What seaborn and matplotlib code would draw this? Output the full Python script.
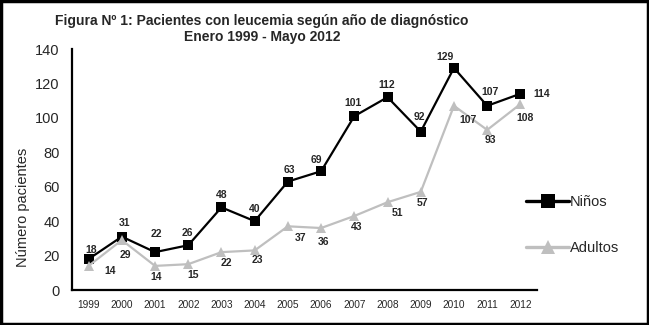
import seaborn as sns
import matplotlib.pyplot as plt
from matplotlib.lines import Line2D
from matplotlib.patches import Rectangle
import pandas as pd

years = ['1999', '2000', '2001', '2002', '2003', '2004', '2005',
         '2006', '2007', '2008', '2009', '2010', '2011', '2012']
ninos = [18, 31, 22, 26, 48, 40, 63, 69, 101, 112, 92, 129, 107, 114]
adultos = [14, 29, 14, 15, 22, 23, 37, 36, 43, 51, 57, 107, 93, 108]
series_names = ['Niños', 'Adultos']

# label offsets in pixels (dx, dy down positive)
ninos_off = [(3, -9), (3, -14), (1, -18), (-1, -12), (0, -12), (0, -12),
             (1, -12), (-5, -11), (-1, -13), (-1, -12), (-1, -15),
             (-9, -11), (3, -14), (21, 0)]
adultos_off = [(22, 5), (4, 15), (1, 11), (5, 11), (5, 11), (3, 10),
               (13, 12), (2, 14), (2, 11), (10, 11), (2, 11), (14, 14),
               (3, 10), (5, 14)]

df = pd.DataFrame({
    'year': years * 2,
    'value': ninos + adultos,
    'serie': [series_names[0]] * len(years) + [series_names[1]] * len(years),
})

sns.set_style('white')
plt.rcParams['font.family'] = ['Liberation Sans', 'DejaVu Sans']

colors = {'Niños': '#000000', 'Adultos': '#bfbfbf'}

fig = plt.figure(figsize=(6.49, 3.25), dpi=100)
ax = fig.add_axes([72 / 649, 1 - 290 / 325, (537 - 72) / 649, (290 - 49) / 325])

sns.lineplot(data=df, x='year', y='value', hue='serie', style='serie',
             markers={'Niños': 's', 'Adultos': '^'}, dashes=False,
             palette=colors, linewidth=1.6, markersize=7.5,
             markeredgewidth=0, sort=False, legend=False, ax=ax)

ax.set_ylim(0, 140)
ax.set_xlim(-0.5, len(years) - 0.5)
ax.set_yticks(range(0, 141, 20))
ax.tick_params(axis='y', labelsize=10.5, length=0, pad=9)
ax.tick_params(axis='x', labelsize=7.3, length=0, pad=7)
ax.set_xlabel('')
ax.set_ylabel('Número pacientes', fontsize=10.5)
ax.yaxis.set_label_coords((30 - 72) / 465, (290 - 207) / 241)
for s in ['top', 'right']:
    ax.spines[s].set_visible(False)
for s in ['left', 'bottom']:
    ax.spines[s].set_linewidth(1.6)
    ax.spines[s].set_color('black')

k = 72 / 100
for i, v in enumerate(ninos):
    dx, dy = ninos_off[i]
    ax.annotate(str(v), (i, v), xytext=(dx * k, -dy * k),
                textcoords='offset points', ha='center', va='center',
                fontsize=7.5, fontweight='bold')
for i, v in enumerate(adultos):
    dx, dy = adultos_off[i]
    ax.annotate(str(v), (i, v), xytext=(dx * k, -dy * k),
                textcoords='offset points', ha='center', va='center',
                fontsize=7.5, fontweight='bold')

handles = [Line2D([], [], color=colors['Niños'], marker='s', lw=2.4,
                  markersize=10, markeredgewidth=0),
           Line2D([], [], color=colors['Adultos'], marker='^', lw=2.4,
                  markersize=10, markeredgewidth=0)]
ax.legend(handles, series_names, loc='center left',
          bbox_to_anchor=(513 / 649, 1 - 225 / 325),
          bbox_transform=fig.transFigure, frameon=False, fontsize=10.5,
          handlelength=2.95, handletextpad=0.05, labelspacing=2.2)

fig.text(262 / 649, 1 - 29 / 325,
         'Figura Nº 1: Pacientes con leucemia según año de diagnóstico\nEnero 1999 - Mayo 2012',
         ha='center', va='center', fontsize=10, fontweight='bold',
         linespacing=1.15)

fig.patches.append(Rectangle((0.002, 0.003), 0.996, 0.994,
                             transform=fig.transFigure, fill=False,
                             edgecolor='black', linewidth=2.5))

fig.savefig('out.png', dpi=100)
